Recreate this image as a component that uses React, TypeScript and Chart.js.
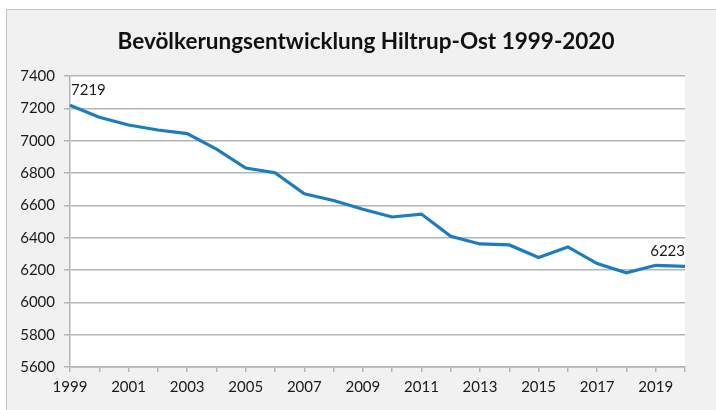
import React, { useEffect, useRef } from "react";
import { Chart, registerables } from "chart.js";

Chart.register(...registerables);

const years: string[] = [
  "1999", "2000", "2001", "2002", "2003", "2004", "2005", "2006", "2007", "2008", "2009",
  "2010", "2011", "2012", "2013", "2014", "2015", "2016", "2017", "2018", "2019", "2020",
];
const population: number[] = [
  7219, 7145, 7097, 7066, 7044, 6948, 6831, 6802, 6671, 6630, 6576,
  6528, 6546, 6408, 6361, 6355, 6277, 6343, 6240, 6183, 6229, 6223,
];
const labeledIndices: number[] = [0, 21];
const titleText = "Bevölkerungsentwicklung Hiltrup-Ost 1999-2020";
const yMin = 5600;
const yMax = 7400;
const yStep = 200;

const FONT = "Lato, 'Open Sans', sans-serif";
const GRID = "#b5b5b5";
const LINE = "#1b7dc1";

const plotBg = {
  id: "plotBg",
  beforeDraw(chart: any) {
    const { ctx, chartArea } = chart;
    ctx.save();
    ctx.fillStyle = "#ffffff";
    ctx.fillRect(chartArea.left, chartArea.top, chartArea.right - chartArea.left, chartArea.bottom - chartArea.top);
    ctx.restore();
  },
};

const frameTitle = {
  id: "frameTitle",
  afterDraw(chart: any) {
    const { ctx } = chart;
    ctx.save();
    ctx.font = `bold 22.5px ${FONT}`;
    ctx.fillStyle = "#111";
    ctx.textAlign = "center";
    ctx.textBaseline = "middle";
    ctx.fillText(titleText, chart.width / 2 + 8, 41.5);
    ctx.restore();
  },
};

const endLabels = {
  id: "endLabels",
  afterDatasetsDraw(chart: any) {
    const { ctx, chartArea } = chart;
    const meta = chart.getDatasetMeta(0);
    ctx.save();
    ctx.font = `15px ${FONT}`;
    ctx.fillStyle = "#1a1a1a";
    ctx.textBaseline = "middle";
    labeledIndices.forEach((i) => {
      const pt = meta.data[i];
      const text = String(population[i]);
      const w = ctx.measureText(text).width;
      let x = pt.x - w / 2;
      if (x < chartArea.left + 1) x = chartArea.left + 1;
      if (x + w > chartArea.right) x = chartArea.right - w;
      ctx.textAlign = "left";
      ctx.fillText(text, x, pt.y - 15);
    });
    ctx.restore();
  },
};

export default function App() {
  const ref = useRef<HTMLCanvasElement | null>(null);
  useEffect(() => {
    if (!ref.current) return;
    const chart = new Chart(ref.current, {
      type: "line",
      data: {
        labels: years,
        datasets: [
          {
            data: population,
            borderColor: LINE,
            borderWidth: 3.2,
            pointRadius: 0,
            tension: 0,
            fill: false,
          },
        ],
      },
      options: {
        animation: false,
        responsive: false,
        layout: { padding: { left: 0, right: 31, top: 76, bottom: 0 } },
        plugins: {
          legend: { display: false },
          tooltip: { enabled: false },
          title: { display: false },
        },
        scales: {
          x: {
            offset: false,
            grid: { drawOnChartArea: false, drawTicks: true, tickLength: 5, color: GRID, lineWidth: 1.5 },
            border: { color: GRID, width: 1.5 },
            ticks: {
              autoSkip: false,
              maxRotation: 0,
              padding: 6,
              color: "#1a1a1a",
              font: { family: FONT, size: 15 },
              callback: (_v: any, i: number) => (i % 2 === 0 ? years[i] : ""),
            },
            afterFit: (s: any) => { s.height = 43; },
          },
          y: {
            min: yMin,
            max: yMax,
            grid: { color: GRID, lineWidth: 1.5, tickLength: 6 },
            border: { color: GRID, width: 1.5 },
            ticks: {
              stepSize: yStep,
              padding: 9,
              color: "#1a1a1a",
              font: { family: FONT, size: 15 },
              callback: (v: any) => String(v),
            },
            afterFit: (s: any) => { s.width = 70; },
          },
        },
      },
      plugins: [plotBg, endLabels, frameTitle],
    });
    return () => chart.destroy();
  }, []);

  return (
    <div style={{ position: "fixed", left: 0, top: 0, width: 716, height: 410, background: "#ffffff", overflow: "hidden" }}>
      <div
        style={{
          position: "absolute",
          left: 6,
          top: 9,
          width: 760,
          height: 460,
          background: "#f0f1f0",
          border: "1px solid #c4c4c4",
        }}
      />
      <canvas ref={ref} width={716} height={410} style={{ position: "absolute", left: 0, top: 0 }} />
    </div>
  );
}
